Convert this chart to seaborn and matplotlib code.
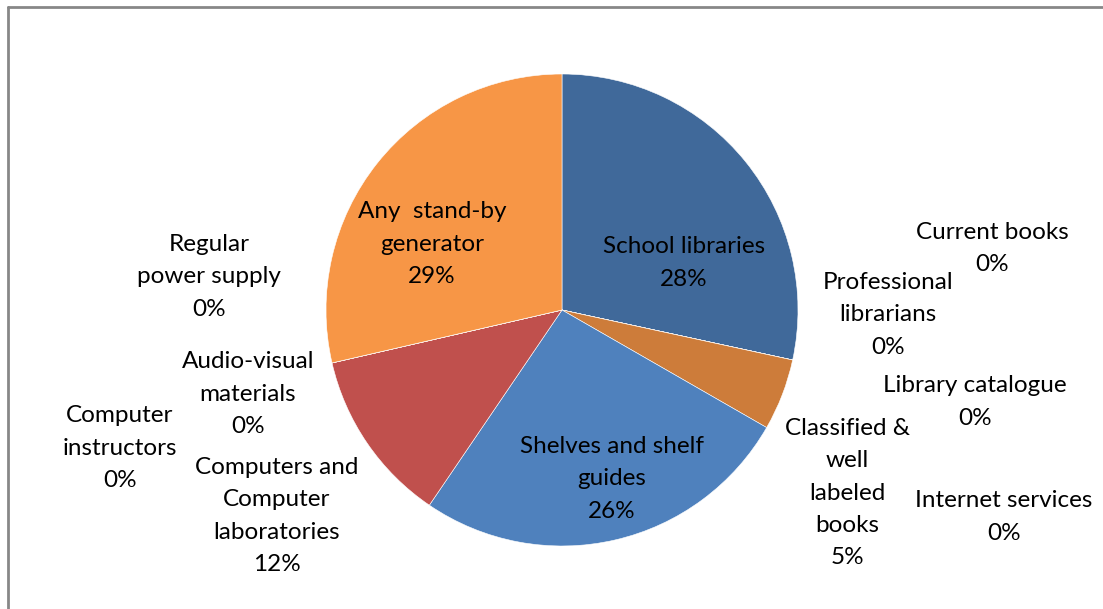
import matplotlib
matplotlib.use('Agg')
import matplotlib.pyplot as plt
from matplotlib.lines import Line2D
import seaborn as sns

# 数据（按顺时针、从12点方向开始）
categories = [
    "School libraries", "Professional\nlibrarians", "Current books",
    "Library catalogue", "Internet services", "Classified &\nwell\nlabeled\nbooks",
    "Shelves and shelf\nguides", "Computers and\nComputer\nlaboratories",
    "Computer\ninstructors", "Audio-visual\nmaterials", "Regular\npower supply",
    "Any  stand-by\ngenerator",
]
values = [28.4, 0, 0, 0, 0, 4.9, 26.2, 11.9, 0, 0, 0, 28.6]
colors = ["#40699A", "#C0504D", "#9BBB59", "#8064A2", "#4BACC6", "#CD7C3A",
          "#4F81BD", "#C0504D", "#9BBB59", "#8064A2", "#4BACC6", "#F79646"]

# 标签位置（饼图数据坐标，半径=1）
label_pos = [
    (0.517, 0.199), (1.381, -0.021), (1.822, 0.262), (1.75, -0.390),
    (1.873, -0.877), (1.208, -0.776), (0.212, -0.716), (-1.208, -0.873),
    (-1.873, -0.585), (-1.331, -0.356), (-1.496, 0.140), (-0.551, 0.279),
]

sns.set_theme(style="white")
plt.rcParams['font.family'] = ['Lato', 'DejaVu Sans']

fig = plt.figure(figsize=(11.03, 6.09), dpi=100)
fig.patch.set_facecolor("white")

cx, cy, r = 562, 310, 236
W, H = 1103, 609
ax = fig.add_axes([(cx - r) / W, (H - cy - r) / H, 2 * r / W, 2 * r / H])

ax.pie(values, colors=sns.color_palette(colors), startangle=90, counterclock=False,
       radius=1, wedgeprops=dict(edgecolor="white", linewidth=0.4))
ax.set_xlim(-1, 1)
ax.set_ylim(-1, 1)
ax.set_aspect("equal")
ax.axis("off")

total = sum(values)
for name, v, (x, y) in zip(categories, values, label_pos):
    txt = name + "\n" + str(round(v / total * 100)) + "%"
    ax.text(x, y, txt, ha="center", va="center", fontsize=17.5, color="black",
            linespacing=1.66, clip_on=False)

# 外框
fig.add_artist(Line2D([8 / W, 8 / W], [0, 1 - 7 / H], color="#878787", lw=2))
fig.add_artist(Line2D([8 / W, 1], [1 - 7 / H, 1 - 7 / H], color="#878787", lw=2))

plt.savefig("out.png", dpi=100, facecolor="white")
plt.close()
